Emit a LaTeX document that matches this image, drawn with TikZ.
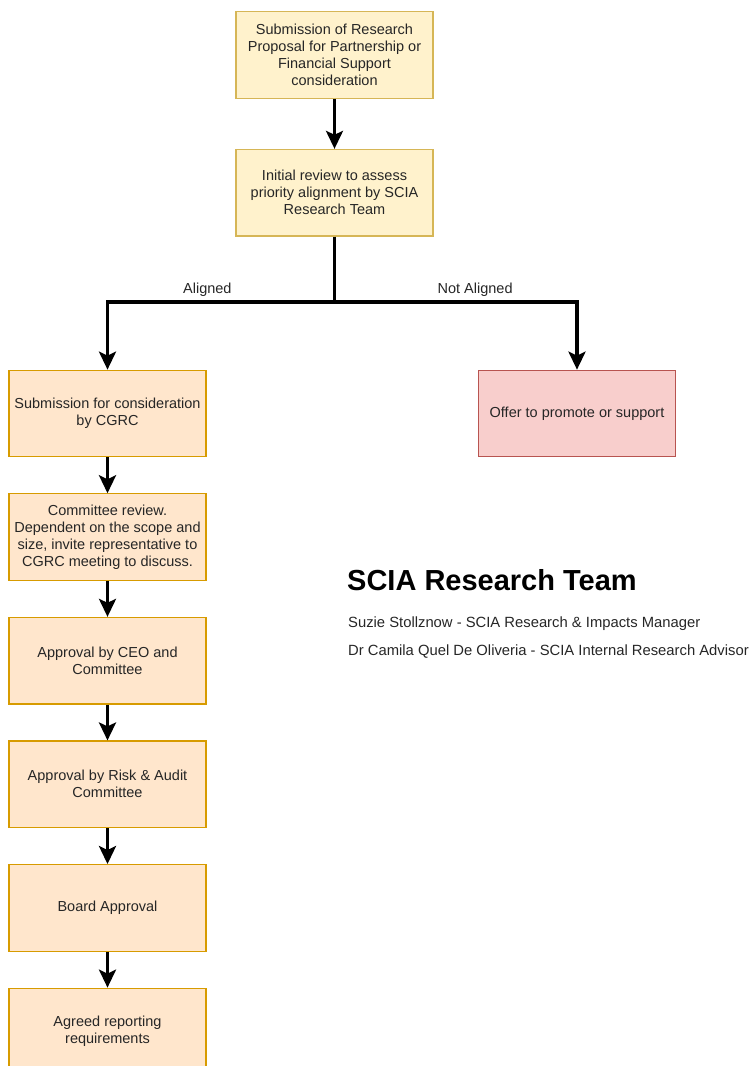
\documentclass[tikz,border=0pt]{standalone}
\usepackage{fontspec}
\setmainfont{Liberation Sans}
\usetikzlibrary{arrows.meta,positioning}
\definecolor{ylwfill}{HTML}{FFF2CC}
\definecolor{ylwdraw}{HTML}{D6B656}
\definecolor{orgfill}{HTML}{FFE6CC}
\definecolor{orgdraw}{HTML}{D79B00}
\definecolor{redfill}{HTML}{F8CECC}
\definecolor{reddraw}{HTML}{B85450}
\definecolor{txtgrey}{HTML}{262626}
\begin{document}
\begin{tikzpicture}[
    x=1pt, y=-1pt,
    node distance=35.9pt and 1cm,
    every node/.style={font=\fontsize{14.5}{17}\selectfont, text=txtgrey},
    stage/.style={rectangle, draw=ylwdraw, fill=ylwfill, line width=1.2pt,
      align=center, minimum width=197pt, minimum height=86.5pt, inner sep=2pt},
    review/.style={stage, draw=orgdraw, fill=orgfill},
    reject/.style={stage, draw=reddraw, fill=redfill},
    arrow/.style={-{Stealth[length=18pt,width=17pt,inset=4pt]}, line width=3.3pt},
    member/.style={anchor=west, inner sep=0pt, font=\fontsize{14.8}{17}\selectfont}
]
\useasboundingbox (0,0) rectangle (748,1066);

% proposal intake
\node[stage] (submit) at (334.5,55) {Submission of Research\\Proposal for Partnership or\\Financial Support\\consideration};
\node[stage, below=50pt of submit] (initial) {Initial review to assess\\priority alignment by SCIA\\Research Team};

% outcomes of the alignment check
\node[review] (cgrc) at (107.5,413.5) {Submission for consideration\\by CGRC};
\node[reject] (offer) at (577,413.5) {Offer to promote or support};

% approval chain
\node[review, below=of cgrc] (committee) {Committee review.\\Dependent on the scope and\\size, invite representative to\\CGRC meeting to discuss.};
\node[review, below=of committee] (ceo) {Approval by CEO and\\Committee};
\node[review, below=of ceo] (audit) {Approval by Risk \& Audit\\Committee};
\node[review, below=of audit] (board) {Board Approval};
\node[review, below=of board] (reporting) {Agreed reporting\\requirements};

% team box
\node[anchor=west, inner sep=0pt, text=black, font=\bfseries\fontsize{29}{34}\selectfont] (team) at (347,580) {SCIA Research Team};
\node[member] (manager) at (348,624) {Suzie Stollznow - SCIA Research \& Impacts Manager};
\node[member] (advisor) at (348,652) {Dr Camila Quel De Oliveria - SCIA Internal Research Advisor};

\coordinate (split) at (334.5,302);
\draw[arrow] (submit) -- (initial);
\draw[line width=3.3pt] (initial.south) -- (split);
\draw[arrow] (split) -| node[pos=0.28, above=1pt] {Aligned} (cgrc.north);
\draw[arrow] (split) -| node[pos=0.29, above=1pt] {Not Aligned} (offer.north);
\draw[arrow] (cgrc) -- (committee);
\draw[arrow] (committee) -- (ceo);
\draw[arrow] (ceo) -- (audit);
\draw[arrow] (audit) -- (board);
\draw[arrow] (board) -- (reporting);
\end{tikzpicture}
\end{document}
